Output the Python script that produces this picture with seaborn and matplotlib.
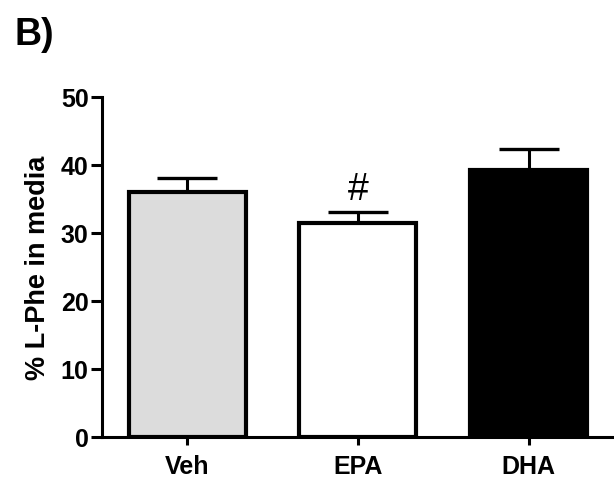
import matplotlib
matplotlib.use("Agg")
import matplotlib.pyplot as plt
import seaborn as sns
import pandas as pd
import numpy as np

categories = ["Veh", "EPA", "DHA"]
means = [36.0, 31.5, 39.3]
sem = [2.1, 1.6, 3.1]
colors = ["#DCDCDC", "#FFFFFF", "#000000"]
ylabel = "% L-Phe in media"
panel = "B)"
marker_text = "#"

sns.set_theme(style="ticks")
plt.rcParams["font.family"] = ["Liberation Sans", "DejaVu Sans"]
plt.rcParams["font.weight"] = "bold"
for k in ["text.color", "axes.labelcolor", "xtick.color", "ytick.color",
          "axes.edgecolor"]:
    plt.rcParams[k] = "black"

fig = plt.figure(figsize=(6.14, 4.81), dpi=100)
ax = fig.add_axes([0.166, 0.0894, 0.834, 0.707])

df = pd.DataFrame({"group": categories, "value": means})
sns.barplot(data=df, x="group", y="value", hue="group", palette=colors,
            legend=False, width=0.685, edgecolor="black", linewidth=3.0,
            ax=ax, zorder=3)

x = np.arange(len(categories))
ax.errorbar(x, means, yerr=[np.zeros(len(sem)), sem], fmt="none",
            ecolor="black", elinewidth=2.2, capsize=21.5, capthick=2.4,
            zorder=2)

ax.text(1, 36.4, marker_text, ha="center", va="center", fontsize=27,
        fontweight="normal", color="black")

ax.set_xlim(-0.5, 2.5)
ax.set_ylim(0, 50)
ax.set_yticks([0, 10, 20, 30, 40, 50])
ax.set_xlabel("")
ax.set_ylabel(ylabel, fontsize=19.5, fontweight="bold", labelpad=7)
ax.tick_params(axis="y", length=8, width=2.2, labelsize=18, pad=1.5)
ax.tick_params(axis="x", length=6, width=2.2, labelsize=18, pad=6)
for lab in ax.get_xticklabels() + ax.get_yticklabels():
    lab.set_fontweight("bold")
sns.despine(ax=ax)
for s in ["left", "bottom"]:
    ax.spines[s].set_linewidth(2.2)
    ax.spines[s].set_color("black")

fig.text(0.024, 0.906, panel, fontsize=27, fontweight="bold", ha="left",
         va="baseline", color="black")

fig.savefig("out.png", dpi=100)
